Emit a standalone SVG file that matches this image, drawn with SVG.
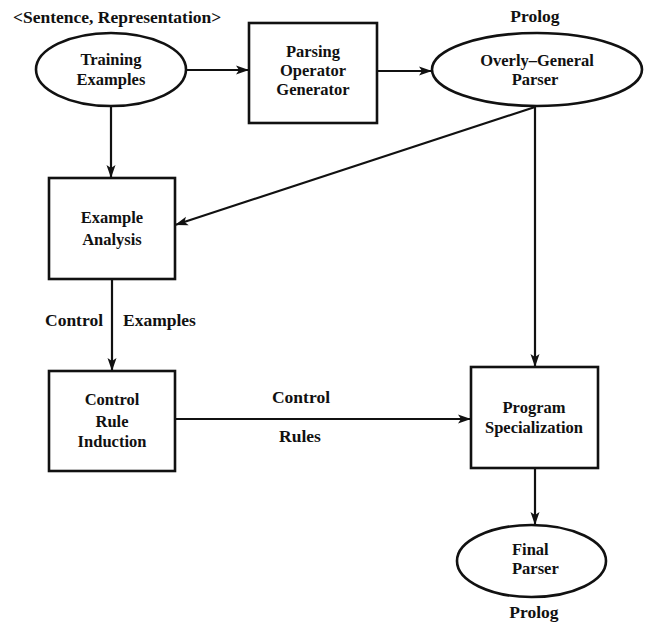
<svg xmlns="http://www.w3.org/2000/svg" width="650" height="625" viewBox="0 0 650 625">
<style>
text{font-family:"Liberation Serif","Times New Roman",serif;font-weight:bold;font-size:17.5px;fill:#111}
.c{text-anchor:middle}
.n{font-size:16.5px}
.node{fill:#fff;stroke:#111;stroke-width:2.6}
.edge{stroke:#111;stroke-width:2.2;fill:none;marker-end:url(#ah)}
</style>
<defs>
<marker id="ah" markerUnits="userSpaceOnUse" viewBox="-1 -6 16 12" markerWidth="16" markerHeight="12" refX="13" refY="0" orient="auto">
<path d="M0,-4.5 L13,0 L0,4.5 L3,0 z" fill="#111"/>
</marker>
</defs>
<rect width="650" height="625" fill="#fff"/>
<g id="labels">
<text x="13" y="23">&lt;Sentence, Representation&gt;</text>
<text class="c" x="535" y="22">Prolog</text>
<text x="45" y="326">Control</text>
<text x="123" y="326">Examples</text>
<text class="c" x="301" y="403">Control</text>
<text class="c" x="300" y="442">Rules</text>
<text class="c" x="534" y="618">Prolog</text>
</g>
<g id="connectors">
<line class="edge" x1="186" y1="70" x2="249" y2="70"/>
<line class="edge" x1="377" y1="71" x2="432" y2="71"/>
<line class="edge" x1="111" y1="106" x2="111" y2="178"/>
<line class="edge" x1="535" y1="107" x2="175" y2="225"/>
<line class="edge" x1="535" y1="106" x2="535" y2="367"/>
<line class="edge" x1="112" y1="279" x2="112" y2="371"/>
<line class="edge" x1="175" y1="419" x2="471" y2="419"/>
<line class="edge" x1="535" y1="468" x2="535" y2="525"/>
</g>
<g id="training-examples">
<ellipse class="node" cx="111" cy="69.5" rx="75" ry="36.5"/>
<text class="c n" x="111" y="65">Training</text>
<text class="c n" x="111" y="85">Examples</text>
</g>
<g id="parsing-operator-generator">
<rect class="node" x="249" y="23" width="128" height="100"/>
<text class="c n" x="313" y="57">Parsing</text>
<text class="c n" x="313" y="76">Operator</text>
<text class="c n" x="313" y="95">Generator</text>
</g>
<g id="overly-general-parser">
<ellipse class="node" cx="537" cy="69.5" rx="105" ry="36.5"/>
<text class="c n" x="537" y="66">Overly–General</text>
<text class="c n" x="535" y="85">Parser</text>
</g>
<g id="example-analysis">
<rect class="node" x="49" y="178" width="126" height="101"/>
<text class="c n" x="112" y="223">Example</text>
<text class="c n" x="112" y="245">Analysis</text>
</g>
<g id="control-rule-induction">
<rect class="node" x="49" y="371" width="126" height="100"/>
<text class="c n" x="112" y="405">Control</text>
<text class="c n" x="112" y="427">Rule</text>
<text class="c n" x="112" y="447">Induction</text>
</g>
<g id="program-specialization">
<rect class="node" x="471" y="367" width="127" height="101"/>
<text class="c n" x="534" y="413">Program</text>
<text class="c n" x="534" y="433">Specialization</text>
</g>
<g id="final-parser">
<ellipse class="node" cx="531.5" cy="561" rx="74.5" ry="36"/>
<text class="n" x="512" y="555">Final</text>
<text class="n" x="512" y="574">Parser</text>
</g>
</svg>
